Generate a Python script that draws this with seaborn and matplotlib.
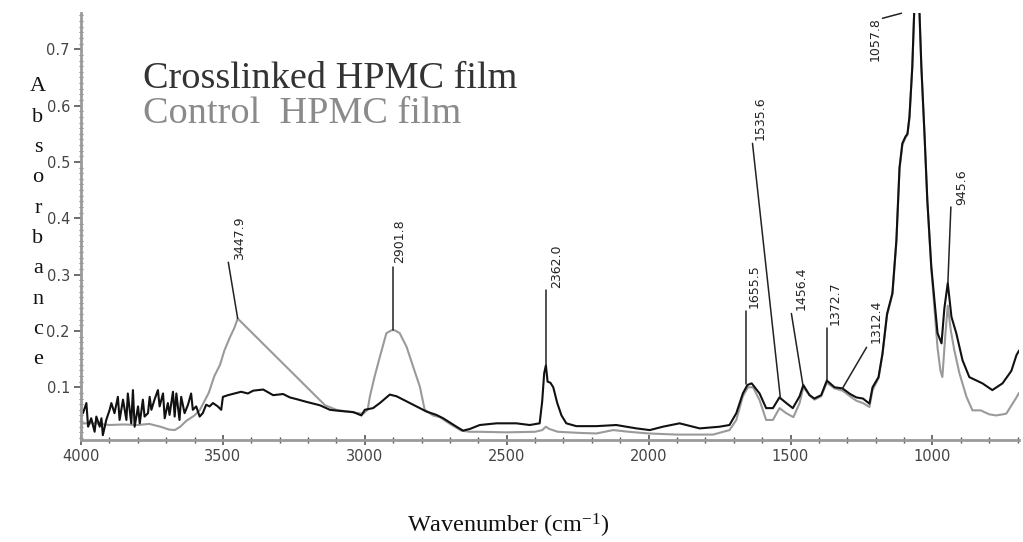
import numpy as np
import pandas as pd
import matplotlib
matplotlib.use("Agg")
import matplotlib.pyplot as plt
import seaborn as sns
from matplotlib.ticker import MultipleLocator, FixedLocator

# ---------------- data ----------------
cross_wn = [3993, 3981, 3975, 3964, 3952, 3946, 3934, 3928, 3923, 3911, 3899, 3893, 3882, 3870, 3864,
            3852, 3840, 3835, 3823, 3817, 3811, 3799, 3793, 3782, 3776, 3764, 3758, 3752, 3741, 3729,
            3723, 3711, 3705, 3694, 3688, 3676, 3670, 3664, 3653, 3647, 3635, 3623, 3612, 3606, 3594,
            3582, 3571, 3559, 3547, 3535, 3518, 3506, 3500, 3482, 3459, 3436, 3412, 3393, 3358, 3323,
            3288, 3264, 3241, 3205, 3158, 3123, 3088, 3041, 3012, 3000, 2971, 2947, 2912, 2888, 2853,
            2818, 2783, 2748, 2724, 2677, 2654, 2630, 2595, 2536, 2466, 2419, 2384, 2375, 2368, 2362,
            2356, 2346, 2336, 2322, 2307, 2290, 2255, 2184, 2114, 2043, 1996, 1950, 1891, 1820, 1750,
            1715, 1691, 1668, 1652, 1637, 1609, 1586, 1562, 1539, 1515, 1492, 1468, 1455, 1433, 1416,
            1392, 1372, 1345, 1317, 1290, 1268, 1245, 1222, 1211, 1190, 1176, 1160, 1141, 1127, 1116,
            1106, 1095, 1088, 1081, 1071, 1064, 1046, 1039, 1028, 1018, 1004, 993, 982, 968, 958,
            946, 933, 916, 894, 870, 845, 824, 789, 753, 722, 704, 695]
cross_abs = [0.054, 0.072, 0.030, 0.045, 0.021, 0.048, 0.030, 0.045, 0.015, 0.042, 0.060, 0.072, 0.054, 0.083, 0.042,
             0.078, 0.042, 0.089, 0.036, 0.095, 0.030, 0.066, 0.036, 0.078, 0.048, 0.054, 0.083, 0.060, 0.078, 0.095,
             0.066, 0.089, 0.045, 0.072, 0.051, 0.092, 0.048, 0.089, 0.042, 0.083, 0.054, 0.069, 0.089, 0.060, 0.066,
             0.048, 0.054, 0.069, 0.066, 0.072, 0.066, 0.060, 0.083, 0.086, 0.089, 0.092, 0.089, 0.094, 0.096, 0.086,
             0.088, 0.082, 0.079, 0.074, 0.068, 0.060, 0.058, 0.056, 0.050, 0.060, 0.063, 0.072, 0.087, 0.084, 0.075,
             0.066, 0.057, 0.051, 0.045, 0.030, 0.023, 0.026, 0.033, 0.036, 0.036, 0.033, 0.036, 0.075, 0.125, 0.139,
             0.110, 0.108, 0.100, 0.072, 0.050, 0.036, 0.031, 0.031, 0.033, 0.027, 0.024, 0.030, 0.036, 0.027, 0.030,
             0.033, 0.054, 0.089, 0.104, 0.107, 0.089, 0.063, 0.063, 0.082, 0.072, 0.063, 0.084, 0.104, 0.086, 0.080,
             0.086, 0.112, 0.100, 0.098, 0.088, 0.082, 0.080, 0.071, 0.100, 0.118, 0.160, 0.230, 0.267, 0.361, 0.490,
             0.533, 0.545, 0.550, 0.580, 0.669, 0.770, 0.770, 0.669, 0.550, 0.432, 0.314, 0.255, 0.196, 0.178, 0.240,
             0.285, 0.225, 0.196, 0.148, 0.118, 0.112, 0.107, 0.095, 0.107, 0.129, 0.157, 0.165]

control_wn = [4000, 3990, 3950, 3900, 3850, 3800, 3760, 3720, 3690, 3670, 3650, 3630, 3600, 3581, 3550,
              3530, 3510, 3495, 3475, 3460, 3447.9, 3140, 3100, 3050, 3006, 2990, 2982, 2965, 2947, 2924,
              2910, 2901.8, 2890, 2877, 2853, 2830, 2806, 2789, 2760, 2736, 2700, 2660, 2630, 2600, 2500,
              2400, 2375, 2362, 2350, 2320, 2243, 2184, 2125, 2070, 2000, 1950, 1900, 1800, 1773, 1715,
              1691, 1668, 1650, 1632, 1609, 1586, 1562, 1539, 1515, 1490, 1468, 1455, 1433, 1416, 1392,
              1372, 1345, 1317, 1290, 1268, 1245, 1222, 1211, 1190, 1176, 1160, 1141, 1127, 1116, 1106,
              1095, 1088, 1081, 1071, 1064, 1046, 1039, 1028, 1018, 1004, 993, 982, 972, 965, 955,
              946, 935, 923, 905, 880, 859, 830, 800, 775, 740, 704, 695]
control_abs = [0.035, 0.036, 0.036, 0.033, 0.034, 0.033, 0.035, 0.030, 0.025, 0.024, 0.030, 0.040, 0.050, 0.060, 0.090,
               0.120, 0.140, 0.165, 0.189, 0.205, 0.222, 0.068, 0.060, 0.056, 0.053, 0.060, 0.084, 0.120, 0.154, 0.196,
               0.200, 0.202, 0.200, 0.196, 0.172, 0.137, 0.101, 0.060, 0.050, 0.047, 0.035, 0.023, 0.021, 0.021, 0.020,
               0.021, 0.024, 0.030, 0.026, 0.021, 0.019, 0.018, 0.024, 0.021, 0.018, 0.017, 0.016, 0.016, 0.016, 0.024,
               0.042, 0.084, 0.100, 0.100, 0.077, 0.042, 0.042, 0.063, 0.054, 0.047, 0.072, 0.100, 0.086, 0.078, 0.084,
               0.108, 0.098, 0.094, 0.084, 0.076, 0.072, 0.065, 0.095, 0.116, 0.158, 0.228, 0.265, 0.358, 0.487, 0.530,
               0.543, 0.548, 0.578, 0.667, 0.770, 0.770, 0.667, 0.548, 0.430, 0.310, 0.240, 0.170, 0.130, 0.118, 0.190,
               0.245, 0.200, 0.166, 0.125, 0.083, 0.059, 0.059, 0.052, 0.050, 0.053, 0.082, 0.090]

series_names = ["Crosslinked HPMC film", "Control  HPMC film"]

# peak annotations
ann_labels = ["3447.9", "2901.8", "2362.0", "1655.5", "1535.6", "1456.4", "1372.7", "1312.4", "945.6", "1057.8"]
ann_x0 = [3447.9, 2901.8, 2362.0, 1655.5, 1535.6, 1456.4, 1372.7, 1317, 945.6, 1109]
ann_y0 = [0.222, 0.202, 0.139, 0.105, 0.080, 0.104, 0.112, 0.098, 0.285, 0.764]
ann_x1 = [3481, 2901.8, 2362.0, 1655.5, 1634, 1497, 1372.7, 1232, 935, 1176]
ann_y1 = [0.322, 0.313, 0.272, 0.236, 0.533, 0.231, 0.205, 0.171, 0.420, 0.755]
ann_tx = [3440, 2877, 2324, 1627, 1606, 1461, 1342, 1197, 898, 1201]
ann_ty = [0.326, 0.320, 0.276, 0.240, 0.539, 0.237, 0.210, 0.178, 0.423, 0.757]
ann_va = ["bottom"] * 9 + ["top"]

x_major = [4000, 3500, 3000, 2500, 2000, 1500, 1000]
x_labels = ["4000", "3500", "3000", "2500", "2000", "1500", "1000"]
y_major = [0.1, 0.2, 0.3, 0.4, 0.5, 0.6, 0.7]
y_labels = ["0.1", "0.2", "0.3", "0.4", "0.5", "0.6", "0.7"]

# ---------------- plot ----------------
sns.set_style("white")
plt.rcParams["font.family"] = ["DejaVu Sans"]
plt.rcParams["mathtext.fontset"] = "custom"
plt.rcParams["mathtext.rm"] = "Liberation Serif"
plt.rcParams["mathtext.it"] = "Liberation Serif:italic"

W, H = 1023, 542
fig = plt.figure(figsize=(W / 100, H / 100), dpi=100)
ax = fig.add_axes([81 / W, 1 - 440 / H, (1019 - 81) / W, (440 - 13) / H])

df_c = pd.DataFrame({"wn": cross_wn, "abs": cross_abs})
df_g = pd.DataFrame({"wn": control_wn, "abs": control_abs})
sns.lineplot(data=df_g, x="wn", y="abs", ax=ax, color="#9a9a9a", lw=1.5, sort=False, estimator=None)
sns.lineplot(data=df_c, x="wn", y="abs", ax=ax, color="#111111", lw=1.5, sort=False, estimator=None)

for lab, x0, y0, x1, y1, tx, ty, va in zip(ann_labels, ann_x0, ann_y0, ann_x1, ann_y1, ann_tx, ann_ty, ann_va):
    ax.plot([x0, x1], [y0, y1], color="#222222", lw=1.1, clip_on=False)
    ax.text(tx, ty, lab, rotation=90, ha="center", va=va, fontsize=9, color="#222222")

ax.set_xlim(4000, 695)
ax.set_ylim(0.0064, 0.7644)
ax.xaxis.set_major_locator(FixedLocator(x_major))
ax.set_xticklabels(x_labels)
ax.xaxis.set_minor_locator(MultipleLocator(100))
ax.yaxis.set_major_locator(FixedLocator(y_major))
ax.set_yticklabels(y_labels)
ax.yaxis.set_minor_locator(MultipleLocator(0.01))
ax.set_xlabel("")
ax.set_ylabel("")

for s in ["top", "right"]:
    ax.spines[s].set_visible(False)
for s in ["left", "bottom"]:
    ax.spines[s].set_color("#9a9a9a")
    ax.spines[s].set_linewidth(2)

ax.tick_params(axis="x", which="major", direction="inout", length=7, width=1.2, color="#555555",
               labelsize=10.5, labelcolor="#444444", pad=3)
ax.tick_params(axis="x", which="minor", direction="inout", length=4, width=1.0, color="#555555")
ax.tick_params(axis="y", which="major", direction="out", length=5, width=1.2, color="#555555",
               labelsize=10.5, labelcolor="#444444", pad=3)
ax.tick_params(axis="y", which="minor", direction="inout", length=3, width=0.8, color="#777777")
ax.tick_params(bottom=True, left=True, which="both")

# legend-like texts
fig.text(143 / W, 1 - 88 / H, series_names[0], fontsize=27.5, family="Liberation Serif",
         color="#333333", ha="left", va="baseline")
fig.text(143 / W, 1 - 123 / H, series_names[1], fontsize=27.5, family="Liberation Serif",
         color="#8a8a8a", ha="left", va="baseline")

# stacked y label
ylabel_text = "Absorbance"
for i, ch in enumerate(ylabel_text):
    fig.text(38 / W, 1 - (87 + i * 30.3) / H, ch, fontsize=16, family="Liberation Serif",
             color="#111111", ha="center", va="center")

# x label
fig.text(508 / W, 1 - 533 / H, r"Wavenumber (cm$^{\mathregular{-1}}$)", fontsize=17.5,
         family="Liberation Serif", color="#111111", ha="center", va="baseline")

fig.savefig("out.png", dpi=100)
